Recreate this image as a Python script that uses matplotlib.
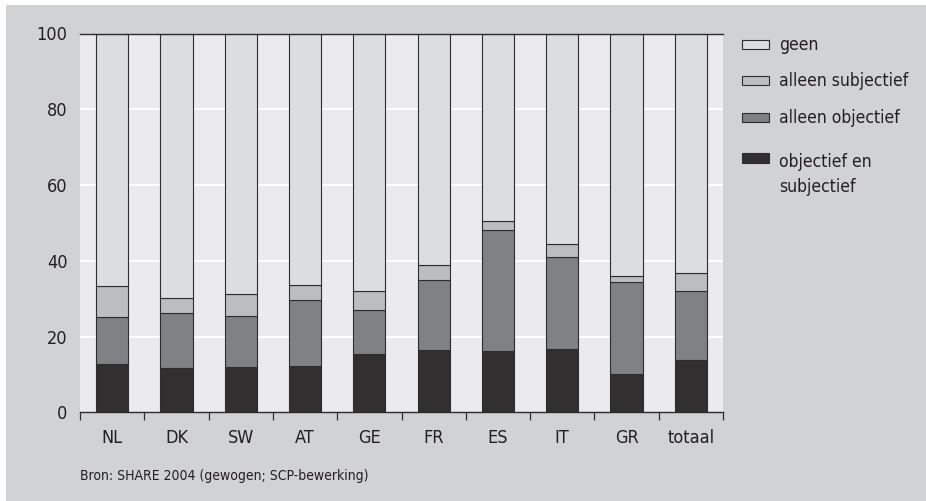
import matplotlib
matplotlib.use("Agg")
import matplotlib.pyplot as plt
from matplotlib.patches import Rectangle
import numpy as np

plt.rcParams['font.family'] = ['DejaVu Sans']
plt.rcParams['font.stretch'] = 'condensed'

countries = ["NL", "DK", "SW", "AT", "GE", "FR", "ES", "IT", "GR", "totaal"]
obj_en_subj = [12.8, 11.8, 12.0, 12.3, 15.4, 16.4, 16.1, 16.6, 10.2, 13.7]
alleen_obj = [12.3, 14.4, 13.5, 17.3, 11.7, 18.4, 32.0, 24.4, 24.3, 18.3]
alleen_subj = [8.3, 4.1, 5.8, 4.0, 5.0, 4.0, 2.5, 3.5, 1.6, 4.7]
geen = [round(100 - a - b - c, 1) for a, b, c in zip(obj_en_subj, alleen_obj, alleen_subj)]

series = [
    ("objectief en\nsubjectief", obj_en_subj, "#312f30"),
    ("alleen objectief", alleen_obj, "#808184"),
    ("alleen subjectief", alleen_subj, "#bcbdc1"),
    ("geen", geen, "#dcdde0"),
]
source = "Bron: SHARE 2004 (gewogen; SCP-bewerking)"

TXT = "#231f20"
EDGE = "#2e2d2e"

W, H = 926, 501
fig = plt.figure(figsize=(W / 100, H / 100), dpi=100)
fig.patch.set_facecolor("white")
fig.add_artist(Rectangle((6 / W, 0), 1 - 6 / W, (H - 5) / H,
                         transform=fig.transFigure, facecolor="#d1d2d4",
                         edgecolor="none", zorder=-10))

ax = fig.add_axes([80 / W, (H - 412.3) / H, 643 / W, (412.3 - 33.5) / H])
ax.set_facecolor("#ebebed")

x = np.arange(len(countries))
bottom = np.zeros(len(countries))
for label, vals, color in series:
    vals = np.array(vals)
    ax.bar(x, vals, width=0.5, bottom=bottom, color=color,
           edgecolor=EDGE, linewidth=0.8, zorder=3, label=label)
    bottom += vals

ax.set_xlim(-0.5, len(countries) - 0.5)
ax.set_ylim(0, 100)

for gy in [20, 40, 60, 80]:
    ax.axhline(gy, color="white", linewidth=1.3, zorder=1)
ax.axhline(100, color=EDGE, linewidth=1.0, zorder=4, clip_on=False)

for s in ["left", "right", "top"]:
    ax.spines[s].set_visible(False)
ax.spines["bottom"].set_color(EDGE)
ax.spines["bottom"].set_linewidth(1.0)

ax.set_yticks([0, 20, 40, 60, 80, 100])
ax.tick_params(axis="y", length=0, pad=9, labelsize=13, labelcolor=TXT)

ax.set_xticks(np.arange(-0.5, len(countries), 1.0))
ax.set_xticklabels([])
ax.tick_params(axis="x", which="major", direction="out", length=6,
               width=0.9, color=EDGE)
ax.set_xticks(x, minor=True)
ax.set_xticklabels(countries, minor=True)
ax.tick_params(axis="x", which="minor", length=0, pad=12, labelsize=13,
               labelcolor=TXT)

# legend: boxes with labels to their right
legend_rows = [("geen", "#dcdde0", 44.5), ("alleen subjectief", "#bcbdc1", 80.5),
               ("alleen objectief", "#808184", 117.8),
               ("objectief en\nsubjectief", "#312f30", 158.0)]
for text, color, yc in legend_rows:
    fig.add_artist(Rectangle((742 / W, (H - yc - 4.5) / H), 27 / W, 9 / H,
                             transform=fig.transFigure, facecolor=color,
                             edgecolor=EDGE, linewidth=0.8))
    if "\n" in text:
        fig.text(779 / W, (H - yc + 5) / H, text, ha="left", va="top",
                 fontsize=12.5, color=TXT, linespacing=1.48)
    else:
        fig.text(779 / W, (H - yc) / H, text, ha="left", va="center",
                 fontsize=12.5, color=TXT)

fig.text(80 / W, (H - 476) / H, source, ha="left", va="center",
         fontsize=10, color=TXT)

fig.savefig("out.png", dpi=100)
